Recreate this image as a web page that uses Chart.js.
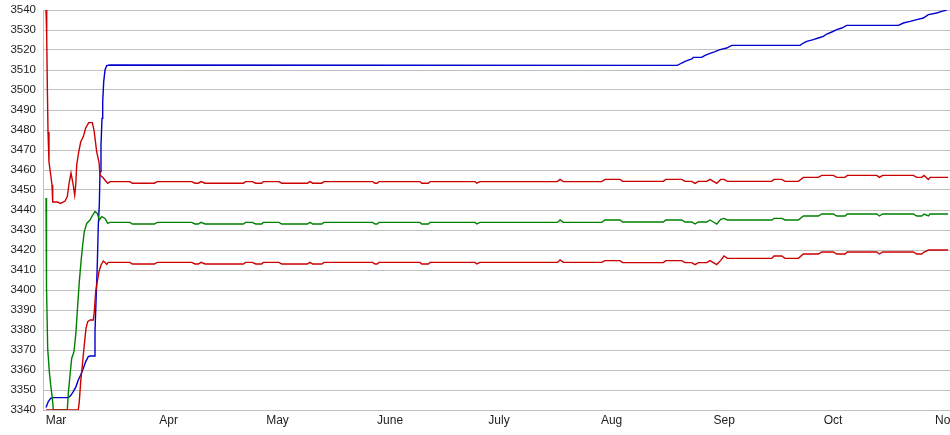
<!DOCTYPE html>
<html>
<head>
<meta charset="utf-8">
<script src="https://cdn.jsdelivr.net/npm/chart.js@4"></script>
<style>
  html, body { margin: 0; padding: 0; background: #ffffff; }
  canvas { display: block; }
</style>
</head>
<body>
<canvas id="c" width="950" height="435"></canvas>
<script>
// x values are days counted from 1 March
const monthTicks = [0, 31, 61, 92, 122, 153, 184, 214, 245];
const monthLabels = ['Mar', 'Apr', 'May', 'June', 'July', 'Aug', 'Sep', 'Oct', 'Nov'];
const yTicks = [3340, 3350, 3360, 3370, 3380, 3390, 3400, 3410, 3420, 3430, 3440, 3450, 3460, 3470, 3480, 3490, 3500, 3510, 3520, 3530, 3540];

// start-up period of each series
const upperStartDays = [-2.75, -2.56, -2.40, -2.20, -1.93, -1.46, -1.10, -0.91, 0.36, 1.29, 2.48, 3.11, 3.66, 4.13, 4.60, 4.87, 5.15, 5.43, 5.70, 6.25, 6.80, 7.52, 8.18, 9.01, 10.00, 10.47, 11.21, 11.84, 12.12, 13.03, 13.69, 14.24];
const upperStart = [3540, 3527.5, 3503.5, 3479, 3464, 3457.5, 3452.5, 3444, 3444, 3443.3, 3444.5, 3446.7, 3454, 3458.5, 3454, 3451, 3447.5, 3452.5, 3462.5, 3469, 3474, 3476.7, 3481, 3483.7, 3483.7, 3480, 3469, 3464, 3457.5, 3456, 3454.5, 3453.3];

const midStartDays = [-2.75, -2.67, -2.56, -2.29, -1.84, -1.46, -1.18, -0.91, -0.74, 3.11, 3.39, 3.86, 4.32, 4.96, 5.51, 5.98, 6.42, 6.89, 7.35, 7.79, 8.46, 9.36, 10.11, 10.74, 11.37, 11.93, 12.59, 13.50, 14.24];
const midStart = [3446, 3431, 3401.7, 3370.8, 3359.2, 3352.5, 3348.3, 3344.2, 3340, 3340, 3348.3, 3357.5, 3365.8, 3369.2, 3379.2, 3392.5, 3404.2, 3414.2, 3422.5, 3429.2, 3433.3, 3435, 3437.5, 3439.2, 3438.3, 3435, 3436.7, 3435.8, 3433.3];

const lowerStartDays = [-2.75, 6.14, 6.42, 6.80, 7.35, 7.79, 8.26, 8.73, 9.36, 10.27, 10.55, 10.93, 11.37, 11.84, 12.39, 13.03, 13.50, 13.96, 14.40];
const lowerStart = [3340, 3340, 3344.2, 3354.2, 3364.2, 3372.5, 3380.8, 3384.2, 3385, 3385, 3389.2, 3399.2, 3404.2, 3409.2, 3412.5, 3414.5, 3413.8, 3412.8, 3413.8];

// the three band lines after start-up
const bandDays = [14.87, 20.38, 21.01, 27.07, 27.90, 37.37, 38.28, 39.19, 39.93, 41.04,
  51.58, 52.24, 54.06, 55.00, 56.65, 57.09, 61.42, 62.16, 69.21, 69.95,
  70.70, 73.17, 73.81, 87.22, 87.85, 88.41, 88.96, 100.25, 100.72, 102.54,
  103.01, 115.40, 115.87, 116.78, 138.07, 138.81, 139.72, 150.29, 151.20, 155.33,
  156.07, 167.26, 167.92, 172.32, 173.23, 175.08, 175.99, 176.89, 179.21, 180.12,
  181.03, 181.96, 183.06, 183.97, 184.88, 197.11, 197.74, 199.86, 200.77, 204.44,
  205.82, 209.94, 210.88, 214.08, 215.01, 217.30, 217.93, 226.03, 226.75, 227.68,
  236.11, 237.04, 238.42, 239.06, 240.24, 240.71, 245.67];
const upperBand = [3454.2, 3454.2, 3453.4, 3453.4, 3454.2, 3454.2, 3453.4, 3453.4, 3454.2, 3453.4,
  3453.4, 3454.2, 3454.2, 3453.4, 3453.4, 3454.2, 3454.2, 3453.4, 3453.4, 3454.2,
  3453.4, 3453.4, 3454.2, 3454.2, 3453.4, 3453.4, 3454.2, 3454.2, 3453.4, 3453.4,
  3454.2, 3454.2, 3453.4, 3454.2, 3454.2, 3455.3, 3454.2, 3454.2, 3455.3, 3455.3,
  3454.3, 3454.3, 3455.3, 3455.3, 3454.3, 3454.3, 3453.3, 3454.3, 3454.3, 3455.3,
  3454.3, 3453.3, 3455.3, 3455.3, 3454.3, 3454.3, 3455.3, 3455.3, 3454.3, 3454.3,
  3456.3, 3456.3, 3457.3, 3457.3, 3456.3, 3456.3, 3457.3, 3457.3, 3456.3, 3457.3,
  3457.3, 3456.3, 3456.3, 3457.3, 3455.3, 3456.3, 3456.3];
const midBand = [3433.8, 3433.8, 3433, 3433, 3433.8, 3433.8, 3433, 3433, 3433.8, 3433,
  3433, 3433.8, 3433.8, 3433, 3433, 3433.8, 3433.8, 3433, 3433, 3433.8,
  3433, 3433, 3433.8, 3433.8, 3433, 3433, 3433.8, 3433.8, 3433, 3433,
  3433.8, 3433.8, 3433, 3433.8, 3433.8, 3435, 3433.8, 3433.8, 3435, 3435,
  3434, 3434, 3435, 3435, 3434, 3434, 3433, 3434, 3434, 3435,
  3434, 3433, 3435.3, 3435.8, 3435, 3435, 3435.8, 3435.8, 3435, 3435,
  3437, 3437, 3438, 3438, 3437, 3437, 3438, 3438, 3437, 3438,
  3438, 3437, 3437, 3438, 3437, 3438, 3438];
const lowerBand = [3413.8, 3413.8, 3413, 3413, 3413.8, 3413.8, 3413, 3413, 3413.8, 3413,
  3413, 3413.8, 3413.8, 3413, 3413, 3413.8, 3413.8, 3413, 3413, 3413.8,
  3413, 3413, 3413.8, 3413.8, 3413, 3413, 3413.8, 3413.8, 3413, 3413,
  3413.8, 3413.8, 3413, 3413.8, 3413.8, 3415, 3413.8, 3413.8, 3414.7, 3414.7,
  3413.7, 3413.7, 3414.7, 3414.7, 3413.7, 3413.7, 3412.7, 3413.7, 3413.7, 3414.7,
  3413.7, 3412.7, 3414.8, 3417, 3415.8, 3415.8, 3417, 3417, 3415.8, 3415.8,
  3418, 3418, 3419, 3419, 3418, 3418, 3419, 3419, 3418, 3419,
  3419, 3418, 3418, 3419, 3420, 3420, 3420];

// blue series
const blueDays = [-2.75, -2.12, -1.46, -0.91, 3.39, 4.05, 4.76, 5.51, 6.14, 6.80,
  7.52, 8.18, 8.90, 9.36, 10.47, 10.74, 11.02, 11.37, 11.65, 11.93,
  12.12, 12.39, 12.67, 12.86, 13.14, 13.50, 13.96, 14.87, 171.11, 172.32,
  173.23, 175.08, 175.52, 177.83, 178.74, 180.12, 181.50, 182.87, 184.71, 186.09,
  204.91, 205.82, 206.75, 208.57, 209.94, 211.32, 212.26, 213.64, 215.01, 216.39,
  217.77, 231.98, 233.36, 235.20, 237.04, 238.86, 240.24, 242.55, 243.93, 245.31];
const blueValues = [3341.2, 3344.2, 3345.8, 3346.2, 3346.2, 3347.2, 3349.2, 3351.7, 3355, 3357.5,
  3360.8, 3364.2, 3366.7, 3367, 3367, 3379.2, 3394.2, 3412.5, 3432.5, 3442.5,
  3459.2, 3472.5, 3485.8, 3494.2, 3504.2, 3510, 3512.2, 3512.5, 3512.3, 3513.5,
  3514.3, 3515.5, 3516.3, 3516.3, 3517.3, 3518.3, 3519.2, 3520.2, 3521, 3522.3,
  3522.3, 3523.5, 3524.3, 3525.2, 3526, 3526.8, 3528, 3529, 3530.2, 3531,
  3532.3, 3532.3, 3533.5, 3534.3, 3535.2, 3536, 3537.7, 3538.5, 3539.3, 3540];

function pts(xs, ys) { return xs.map((x, i) => ({ x: x, y: ys[i] })); }

const upperData = pts(upperStartDays, upperStart).concat(pts(bandDays, upperBand));
const midData = pts(midStartDays, midStart).concat(pts(bandDays, midBand));
const lowerData = pts(lowerStartDays, lowerStart).concat(pts(bandDays, lowerBand));
const blueData = pts(blueDays, blueValues);

function ds(data, color) {
  return { data: data, borderColor: color, borderWidth: 1.4, pointRadius: 0, tension: 0, fill: false };
}

new Chart(document.getElementById('c'), {
  type: 'line',
  data: {
    datasets: [
      ds(lowerData, '#cc0000'),
      ds(midData, '#008000'),
      ds(upperData, '#cc0000'),
      ds(blueData, '#0000cc')
    ]
  },
  options: {
    responsive: false,
    animation: false,
    layout: { padding: { top: 10, left: 0, right: 0, bottom: 0 } },
    plugins: { legend: { display: false }, tooltip: { enabled: false } },
    scales: {
      x: {
        type: 'linear',
        min: -3.58,
        max: 246.2,
        grid: { display: false, drawTicks: false },
        border: { display: true, color: '#c0c0c0', width: 1 },
        afterBuildTicks: (scale) => { scale.ticks = monthTicks.map(v => ({ value: v })); },
        afterFit: (scale) => { scale.height = 25; scale.paddingLeft = 0; scale.paddingRight = 0; },
        ticks: {
          autoSkip: false,
          maxRotation: 0,
          padding: 3,
          color: '#222222',
          font: { family: 'Liberation Sans, Arial, sans-serif', size: 12 },
          callback: (v) => { const i = monthTicks.indexOf(v); return i >= 0 ? monthLabels[i] : ''; }
        }
      },
      y: {
        type: 'linear',
        min: 3340,
        max: 3540,
        grid: { color: '#c0c0c0', lineWidth: 1, drawTicks: false },
        border: { display: true, color: '#c0c0c0', width: 1 },
        afterBuildTicks: (scale) => { scale.ticks = yTicks.map(v => ({ value: v })); },
        afterFit: (scale) => { scale.width = 43; scale.paddingTop = 0; scale.paddingBottom = 0; },
        ticks: {
          padding: 7,
          color: '#222222',
          font: { family: 'Liberation Sans, Arial, sans-serif', size: 11.5 },
          callback: (v) => String(v)
        }
      }
    }
  }
});
</script>
</body>
</html>
